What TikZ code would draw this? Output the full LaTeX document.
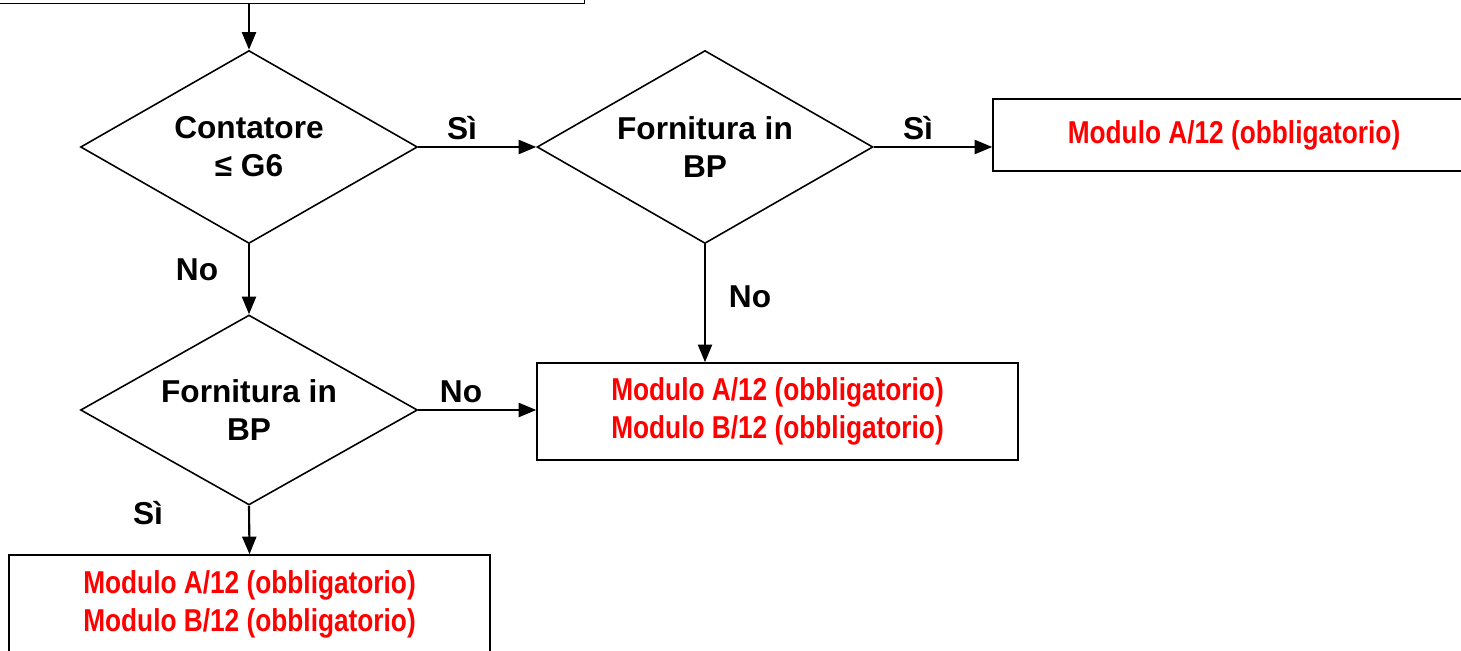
\documentclass[tikz,border=0pt]{standalone}
\usepackage{fontspec}
\setmainfont{Liberation Sans}
\newfontfamily\narrowfont[FakeStretch=0.83]{Liberation Sans}
\usetikzlibrary{arrows.meta,positioning,shapes.geometric,calc}

\tikzset{
    decision/.style={diamond, aspect=1.75, draw, line width=0.9pt, inner sep=0pt, align=center,
        font=\fontsize{18}{21.6}\selectfont\bfseries},
    outbox/.style={draw, line width=0.9pt, rectangle, inner sep=0pt, align=center,
        text=red, font=\fontsize{18}{21.6}\selectfont\narrowfont\bfseries},
    lbl/.style={inner sep=0pt, font=\fontsize{18}{21.6}\selectfont\bfseries},
    flow/.style={line width=1.2pt, -{Triangle[length=10pt, width=8pt]}}
}

\begin{document}
\begin{tikzpicture}[x=0.02cm, y=-0.02cm]
            % Frame of the picture
            \clip (0,0) rectangle (1461,651);

            % Boxes at the top and the results
            \node[outbox, minimum width=11.9cm, minimum height=1.26cm] (start) at (287,-28) {};
            \node[outbox, minimum width=9.64cm, minimum height=1.44cm] (mA) at (1234,135) {Modulo A/12 (obbligatorio)};
            \node[outbox, minimum width=9.62cm, minimum height=1.94cm] (mAB) at (777.5,411.5) {Modulo A/12 (obbligatorio)\\Modulo B/12 (obbligatorio)};
            \node[outbox, minimum width=9.62cm, minimum height=1.96cm] (mABlow) at (249.5,604) {Modulo A/12 (obbligatorio)\\Modulo B/12 (obbligatorio)};

            % Decisions
            \node[decision, minimum width=6.74cm, minimum height=3.86cm] (contatore) at (249,147) {Contatore\\≤ G6};
            \node[decision, minimum width=6.72cm, minimum height=3.86cm] (bpTop) at (705,147) {Fornitura in\\BP};
            \node[decision, minimum width=6.74cm, minimum height=3.80cm] (bpLow) at (249,410) {Fornitura in\\BP};

            % Connectors
            \draw[flow] (start.south -| contatore.north) -- (contatore.north);
            \draw[flow] (contatore.east) -- (bpTop.west);
            \draw[flow] (bpTop.east) -- (bpTop.east -| mA.west);
            \draw[flow] (bpTop.south) -- (bpTop.south |- mAB.north);
            \draw[flow] (contatore.south) -- (bpLow.north);
            \draw[flow] (bpLow.east) -- (bpLow.east -| mAB.west);
            \draw[flow] (bpLow.south) -- (mABlow.north);

            % Labels
            \node[lbl] (siA) at (462,128) {Sì};
            \node[lbl] (siB) at (918,128) {Sì};
            \node[lbl] (noA) at (197,270) {No};
            \node[lbl] (noB) at (750,297) {No};
            \node[lbl] (noC) at (461,392) {No};
            \node[lbl] (siC) at (148,513) {Sì};

        \end{tikzpicture}
\end{document}
